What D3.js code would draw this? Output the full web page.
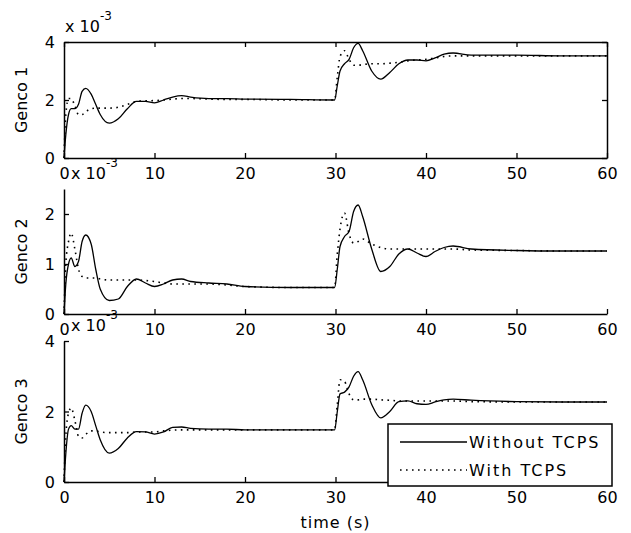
<!DOCTYPE html>
<html>
<head>
<meta charset="utf-8">
<script src="https://cdn.jsdelivr.net/npm/d3@7"></script>
<style>
  body { margin: 0; background: #fff; }
  svg text { font-family: "DejaVu Sans", sans-serif; font-size: 16px; fill: #000; }
</style>
</head>
<body>
<div id="chart"></div>
<script>
// time samples (s), shared by all series
const time = [0, 0.2, 0.5, 0.8, 1.2, 1.6, 2, 2.4, 3, 3.5, 4, 5, 6, 7, 8, 9, 10, 11, 12, 13, 14, 16, 18, 20, 25, 29.9,
  30.2, 30.5, 31, 31.5, 32, 32.5, 33, 34, 35, 36, 37, 38, 39, 40, 41, 42, 43, 45, 50, 55, 60];

// values in units of 1e-3
const genco1_without = [0, 0.8, 1.5, 1.7, 1.7, 1.85, 2.3, 2.4, 2.2, 1.85, 1.5, 1.2, 1.35, 1.7, 1.95, 1.95, 1.9, 2.0, 2.1, 2.15, 2.1, 2.05, 2.05, 2.03, 2.02, 2.0,
  2.5, 3.0, 3.25, 3.4, 3.8, 3.95, 3.7, 3.0, 2.72, 2.95, 3.25, 3.38, 3.38, 3.35, 3.45, 3.58, 3.62, 3.55, 3.55, 3.52, 3.52];
const genco1_with = [0, 1.5, 2.05, 2.05, 1.8, 1.5, 1.5, 1.6, 1.7, 1.72, 1.72, 1.72, 1.75, 1.85, 1.95, 1.97, 1.98, 2.0, 2.03, 2.05, 2.05, 2.03, 2.02, 2.02, 2.0, 2.0,
  2.8, 3.5, 3.7, 3.4, 3.2, 3.2, 3.22, 3.25, 3.25, 3.27, 3.3, 3.35, 3.38, 3.4, 3.45, 3.5, 3.52, 3.52, 3.52, 3.52, 3.52];

const genco2_without = [0, 0.6, 1.0, 1.12, 0.95, 1.05, 1.45, 1.58, 1.4, 0.9, 0.5, 0.27, 0.3, 0.55, 0.7, 0.62, 0.55, 0.6, 0.68, 0.7, 0.65, 0.62, 0.6, 0.55, 0.53, 0.53,
  0.9, 1.35, 1.55, 1.65, 2.05, 2.18, 1.95, 1.3, 0.85, 0.95, 1.2, 1.3, 1.22, 1.15, 1.25, 1.33, 1.36, 1.3, 1.27, 1.26, 1.26];
const genco2_with = [0, 1.0, 1.45, 1.62, 1.3, 0.9, 0.75, 0.72, 0.72, 0.72, 0.7, 0.68, 0.68, 0.68, 0.68, 0.67, 0.65, 0.62, 0.6, 0.6, 0.6, 0.6, 0.58, 0.55, 0.53, 0.53,
  1.2, 1.7, 2.02, 1.6, 1.42, 1.45, 1.5, 1.4, 1.33, 1.3, 1.3, 1.3, 1.3, 1.3, 1.3, 1.3, 1.3, 1.28, 1.27, 1.26, 1.26];

const genco3_without = [0, 0.8, 1.5, 1.6, 1.5, 1.5, 1.95, 2.18, 2.0, 1.6, 1.2, 0.82, 0.95, 1.25, 1.43, 1.42, 1.36, 1.42, 1.55, 1.56, 1.52, 1.5, 1.5, 1.48, 1.48, 1.48,
  2.0, 2.5, 2.55, 2.7, 3.0, 3.13, 2.9, 2.2, 1.82, 2.0, 2.28, 2.3, 2.22, 2.2, 2.27, 2.33, 2.35, 2.32, 2.28, 2.27, 2.27];
const genco3_with = [0, 1.3, 1.95, 2.1, 1.75, 1.3, 1.25, 1.35, 1.45, 1.45, 1.42, 1.4, 1.4, 1.4, 1.42, 1.42, 1.42, 1.45, 1.47, 1.48, 1.48, 1.48, 1.48, 1.48, 1.48, 1.48,
  2.2, 2.9, 2.85, 2.5, 2.33, 2.33, 2.35, 2.35, 2.33, 2.32, 2.3, 2.3, 2.3, 2.3, 2.3, 2.3, 2.3, 2.28, 2.27, 2.27, 2.27];

const panel_labels = ["Genco 1", "Genco 2", "Genco 3"];
const y_max = [4, 2.5, 4];
const y_ticks = [[0, 2, 4], [0, 1, 2], [0, 2, 4]];
const x_ticks = [0, 10, 20, 30, 40, 50, 60];
const legend_labels = ["Without TCPS", "With TCPS"];

const width = 631, height = 533;
const left = 64, right = 607;
const panel_top = [42, 189, 341], panel_bottom = [158, 314, 482];

const svg = d3.select("#chart").append("svg")
    .attr("width", width)
    .attr("height", height);

const x = d3.scaleLinear().domain([0, 60]).range([left, right]);

const series = [
  [genco1_without, genco1_with],
  [genco2_without, genco2_with],
  [genco3_without, genco3_with]
];

panel_labels.forEach(function(label, i) {
  const y = d3.scaleLinear().domain([0, y_max[i]]).range([panel_bottom[i], panel_top[i]]);
  const g = svg.append("g");

  const line = d3.line()
    .x(function(d, k) { return x(time[k]); })
    .y(function(d) { return y(d); })
    .curve(d3.curveMonotoneX);

  // dotted = with TCPS, solid = without
  g.append("path")
    .attr("d", line(series[i][1]))
    .attr("fill", "none").attr("stroke", "#000").attr("stroke-width", 1.6)
    .attr("stroke-dasharray", "1.6,4.4");
  g.append("path")
    .attr("d", line(series[i][0]))
    .attr("fill", "none").attr("stroke", "#000").attr("stroke-width", 1.3);

  // bottom axis, ticks point inward
  const xAxis = g.append("g")
    .attr("transform", `translate(0, ${panel_bottom[i]})`)
    .call(d3.axisBottom(x).tickValues(x_ticks).tickFormat(d3.format("d")).tickSize(-5).tickPadding(10).tickSizeOuter(0));
  // left axis
  const yAxis = g.append("g")
    .attr("transform", `translate(${left}, 0)`)
    .call(d3.axisLeft(y).tickValues(y_ticks[i]).tickFormat(d3.format("d")).tickSize(-5).tickPadding(9).tickSizeOuter(0));

  [xAxis, yAxis].forEach(function(a) {
    a.selectAll(".domain").attr("stroke", "#000").attr("stroke-width", 1.5);
    a.selectAll(".tick line").attr("stroke", "#000").attr("stroke-width", 1.3);
    a.selectAll("text").attr("font-family", "DejaVu Sans").attr("font-size", 16);
    a.attr("font-size", null);
  });
  yAxis.selectAll("text").attr("dy", "0.36em");

  if (i === 0) {
    // full box with mirrored ticks
    g.append("g")
      .attr("transform", `translate(0, ${panel_top[i]})`)
      .call(d3.axisTop(x).tickValues(x_ticks).tickSize(-5).tickFormat("").tickSizeOuter(0))
      .call(a => { a.select(".domain").attr("stroke-width", 1.5); a.selectAll(".tick line").attr("stroke-width", 1.3); });
    g.append("g")
      .attr("transform", `translate(${right}, 0)`)
      .call(d3.axisRight(y).tickValues(y_ticks[i]).tickSize(-5).tickFormat("").tickSizeOuter(0))
      .call(a => { a.select(".domain").attr("stroke-width", 1.5); a.selectAll(".tick line").attr("stroke-width", 1.3); });
  }

  // exponent label (sits right of the previous panel's "0" tick label)
  const ex = g.append("text").attr("x", i === 0 ? left + 1 : left + 7).attr("y", panel_top[i] - 10);
  ex.append("tspan").text("x 10");
  ex.append("tspan").attr("dy", -12).attr("font-size", 12).text("-3");

  // y label
  svg.append("text")
    .attr("transform", `translate(27, ${(panel_top[i] + panel_bottom[i]) / 2}) rotate(-90)`)
    .attr("text-anchor", "middle")
    .text(label);
});

svg.append("text")
  .attr("x", (left + right) / 2)
  .attr("y", 528)
  .attr("text-anchor", "middle")
  .attr("letter-spacing", 1)
  .text("time (s)");

// legend
const legend = svg.append("g");
legend.append("rect")
  .attr("x", 388).attr("y", 424).attr("width", 224).attr("height", 62)
  .attr("fill", "#fff").attr("stroke", "#000").attr("stroke-width", 1.5);
legend_labels.forEach(function(name, k) {
  const ly = 442 + k * 28;
  legend.append("line")
    .attr("x1", 400).attr("x2", 467).attr("y1", ly).attr("y2", ly)
    .attr("stroke", "#000").attr("stroke-width", k === 0 ? 1.3 : 1.6)
    .attr("stroke-dasharray", k === 0 ? null : "1.6,4.4");
  legend.append("text")
    .attr("x", 469).attr("y", ly).attr("dy", "0.36em")
    .attr("font-size", 17).attr("letter-spacing", 2)
    .text(name);
});
</script>
</body>
</html>
